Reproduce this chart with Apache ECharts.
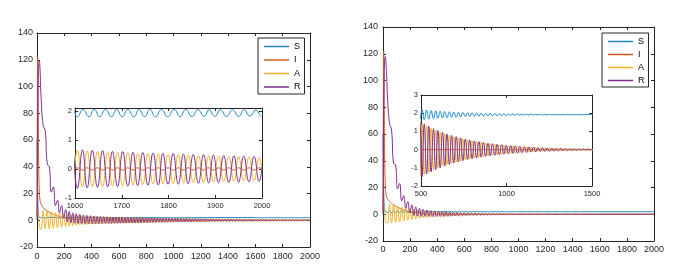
<!DOCTYPE html>
<html><head><meta charset="utf-8">
<script src="https://cdn.jsdelivr.net/npm/echarts@6/dist/echarts.min.js"></script>
<style>html,body{margin:0;padding:0;background:#fff}#c{width:688px;height:272px}</style>
</head><body><div id="c"></div>
<script>
// ---------- series names / colours ----------
const names = ['S', 'I', 'A', 'R'];

// ---------- LEFT panel: times of the A/R/I samples ----------
const tL = [0,2,5,9,13,17,22,
30,45,60,75,90,105,120,135,150,165,180,195,210,
223,236,249,262,275,288,301,314,327,340,353,366,379,392,405,
417,429,441,453,465,477,489,501,513,
525,536,546,557,568, 579,590,600,611,622, 633,644,654,665,676, 687,698,708,719,730,
741,752,762,773,784, 795,806,816,827,838, 849,860,870,881,892, 903,914,924,935,946,
957,968,978,989,1000, 1011,1022,1032,1043,1054, 1065,1076,1086,1097,1108, 1119,1130,1140,1151,1162,
1173,1184,1194,1205,1216, 1227,1238,1248,1259,1270, 1281,1292,1302,1313,1324, 1335,1346,1356,1367,1378,
1389,1400,1410,1421,1432, 1443,1454,1464,1475,1486, 1497,1508,1518,1529,1540, 1551,1562,1572,1583,1594,
1605,1616,1626,1637,1648, 1659,1670,1680,1691,1702, 1713,1724,1734,1745,1756, 1767,1778,1788,1799,1810,
1821,1832,1842,1853,1864, 1875,1886,1896,1907,1918, 1929,1940,1950,1961,1972, 1983,1994,2000];

const aLeft = [10,9.5,7.5,3,-1.5,-4.5,-6,
-6.8,7.2,-6.6,6.8,-6.3,6.3,-6,5.8,-5.6,5.3,-5.2,4.8,-4.7,
4.3,-4.3,4,-4,3.7,-3.8,3.5,-3.5,3.3,-3.3,3.1,-3.2,3,-3,2.9,
-2.9,2.8,-2.8,2.7,-2.7,2.6,-2.6,2.5,-2.5,
2.4,-2.38,2.35,-2.33,2.3, -2.27,2.24,-2.21,2.18,-2.16, 2.13,-2.1,2.08,-2.05,2.02, -2,1.97,-1.95,1.92,-1.9,
1.87,-1.85,1.83,-1.8,1.78, -1.76,1.73,-1.71,1.69,-1.67, 1.65,-1.63,1.6,-1.58,1.56, -1.54,1.52,-1.5,1.48,-1.46,
1.44,-1.43,1.41,-1.39,1.37, -1.35,1.33,-1.32,1.3,-1.28, 1.26,-1.25,1.23,-1.21,1.2, -1.18,1.17,-1.15,1.14,-1.12,
1.1,-1.09,1.08,-1.06,1.05, -1.03,1.02,-1,0.99,-0.98, 0.96,-0.95,0.94,-0.92,0.91, -0.9,0.89,-0.87,0.86,-0.85,
0.84,-0.83,0.81,-0.8,0.79, -0.78,0.77,-0.76,0.75,-0.74, 0.73,-0.72,0.71,-0.7,0.69, -0.68,0.67,-0.66,0.65,-0.64,
0.64,-0.63,0.62,-0.61,0.6, -0.6,0.59,-0.58,0.57,-0.57, 0.56,-0.55,0.54,-0.54,0.53, -0.52,0.52,-0.51,0.5,-0.5,
0.49,-0.48,0.48,-0.47,0.46, -0.46,0.45,-0.45,0.44,-0.43, 0.43,-0.42,0.42,-0.41,0.41, -0.4,0.4,-0.05];

const rLeft = [0,20,70,105,117,119,113,
92,71,67,42,40,21,25,11,15,5.5,11,1.5,8,
-1.2,6.5,-1.8,5.5,-2.2,4.9,-2.4,4.4,-2.5,4,-2.6,3.7,-2.6,3.4,-2.6,
3.2,-2.6,3,-2.6,2.9,-2.5,2.7,-2.5,2.6,
-2.47,2.45,-2.42,2.4,-2.37, 2.34,-2.31,2.28,-2.25,2.22, -2.19,2.16,-2.14,2.11,-2.08, 2.06,-2.03,2.01,-1.98,1.96,
-1.93,1.91,-1.88,1.85,-1.83, 1.81,-1.78,1.76,-1.74,1.72, -1.7,1.68,-1.65,1.63,-1.61, 1.59,-1.57,1.55,-1.52,1.5,
-1.48,1.47,-1.45,1.43,-1.41, 1.39,-1.37,1.36,-1.34,1.32, -1.3,1.29,-1.27,1.25,-1.24, 1.22,-1.21,1.19,-1.17,1.15,
-1.13,1.12,-1.11,1.09,-1.08, 1.06,-1.05,1.03,-1.02,1.01, -0.99,0.98,-0.97,0.95,-0.94, 0.93,-0.92,0.9,-0.89,0.88,
-0.87,0.86,-0.84,0.83,-0.82, 0.81,-0.8,0.79,-0.78,0.77, -0.76,0.75,-0.74,0.73,-0.72, 0.71,-0.7,0.69,-0.68,0.67,
-0.67,0.66,-0.65,0.64,-0.63, 0.63,-0.62,0.61,-0.6,0.6, -0.59,0.58,-0.57,0.57,-0.56, 0.55,-0.55,0.54,-0.53,0.53,
-0.52,0.51,-0.51,0.5,-0.49, 0.49,-0.48,0.48,-0.47,0.46, -0.46,0.45,-0.45,0.44,-0.44, 0.43,-0.43,0.06];

const iLeft = [3,70,122,75,38,22,15,
12,9.5,8,7,6,5.2,4.5,3.9,3.3,2.8,2.4,2,1.7,
1.45,1.2,1,0.85,0.7,0.58,0.48,0.4,0.33,0.27,0.22,0.18,0.15,0.12,0.1,
-0.02,0.08,-0.03,0.07,-0.04,0.06,-0.04,0.05,-0.05,
0.05,-0.05,0.05,-0.05,0.05, -0.05,0.05,-0.05,0.05,-0.05, 0.05,-0.05,0.05,-0.05,0.05, -0.05,0.05,-0.05,0.05,-0.05,
0.05,-0.05,0.05,-0.05,0.05, -0.05,0.05,-0.05,0.05,-0.05, 0.05,-0.05,0.05,-0.05,0.05, -0.05,0.05,-0.05,0.05,-0.05,
0.05,-0.05,0.05,-0.05,0.05, -0.05,0.05,-0.05,0.05,-0.05, 0.04,-0.04,0.04,-0.04,0.04, -0.04,0.04,-0.04,0.04,-0.04,
0.04,-0.04,0.04,-0.04,0.04, -0.04,0.04,-0.04,0.04,-0.04, 0.04,-0.04,0.04,-0.04,0.04, -0.04,0.04,-0.04,0.04,-0.04,
0.04,-0.04,0.04,-0.04,0.04, -0.04,0.04,-0.04,0.04,-0.04, 0.04,-0.04,0.04,-0.04,0.04, -0.04,0.04,-0.04,0.04,-0.04,
0.04,-0.04,0.04,-0.04,0.04, -0.04,0.04,-0.04,0.04,-0.04, 0.04,-0.04,0.04,-0.04,0.04, -0.04,0.04,-0.04,0.04,-0.04,
0.04,-0.04,0.04,-0.04,0.04, -0.04,0.04,-0.04,0.04,-0.04, 0.04,-0.04,0.04,-0.04,0.04, -0.04,0.04,0];

// S (left) has its own sample times
const tSLeft = [0,2,5,9,13,17,22,35,60,100,150,250,400,700,1000,1300,
1593,
1605,1617,1630,1641,1653,1665,1678,1689,1701,1713,1726,1737,1749,1760,1772,1785,1798,1812,1825,1837,1850,1863,1876,1887,1899,1911,1924,1937,1950,1962,1974,1987,1999,
2000];
const sLeft = [60,40,18,7,3.5,2.3,1.8,2.2,1.7,2.2,1.8,2.05,1.85,2,1.85,2,
2.04,
1.8,2.05,1.8,2.05,1.8,2.05,1.8,2.05,1.8,2.05,1.8,2.05,1.8,2.05,1.8,2.05,1.8,2.05,1.8,2.05,1.81,2.04,1.81,2.04,1.81,2.04,1.81,2.04,1.81,2.04,1.82,2.03,1.82,
1.82];

// ---------- RIGHT panel ----------
const tR = [0,2,5,9,13,17,22,27,
33,48,63,78,93,108,123,138,153,168,183,198,
213,227,241,255,269,283,297,311,325,339,353,367,381,395,409,423,437,451,465,479,493,
506,519,533,546,559,573,586,599,612,626,
639,652,666,679,692,706,719,732,745,759,
772,785,799,812,825,839,852,865,878,892,
905,918,932,945,958,972,985,998,1011,1025,
1038,1051,1065,1078,1091,1105,1118,1131,1144,1158,
1171,1184,1198,1211,1224,1238,1251,1264,1277,1291,
1304,1317,1331,1344,1357,1371,1384,1397,1410,1424,
1437,1450,1464,1477,1490,1504,
1600,1800,2000];

const aRight = [10,9.5,7.5,3,-1.5,-4.5,-6,-6.6,
-6.8,7.2,-6.6,6.8,-6.2,6.1,-5.7,5.4,-5.1,4.8,-4.5,4.2,
-3.9,3.6,-3.4,3.2,-3,2.8,-2.7,2.5,-2.4,2.3,-2.2,2.1,-2,1.9,-1.85,1.78,-1.72,1.66,-1.6,1.55,-1.5,
1.42,-1.35,1.29,-1.23,1.17,-1.11,1.06,-1.01,0.96,-0.91,
0.87,-0.83,0.79,-0.75,0.71,-0.68,0.65,-0.62,0.59,-0.56,
0.53,-0.51,0.48,-0.46,0.44,-0.42,0.4,-0.38,0.36,-0.34,
0.33,-0.31,0.3,-0.28,0.27,-0.26,0.24,-0.23,0.22,-0.21,
0.2,-0.19,0.18,-0.17,0.16,-0.15,0.15,-0.14,0.13,-0.13,
0.12,-0.11,0.11,-0.1,0.1,-0.09,0.09,-0.08,0.08,-0.07,
0.07,-0.07,0.06,-0.06,0.06,-0.05,0.05,-0.05,0.05,-0.04,
0.04,-0.04,0.04,-0.04,0.03,-0.03,
0,0,0];

const rRight = [0,20,70,104,116,118,113,104,
88,68,63,38,37,19,23,10,14,4.5,9.5,1,
7,-1,5.5,-1.4,4.5,-1.6,3.8,-1.7,3.2,-1.7,2.8,-1.65,2.4,-1.6,2.1,-1.6,1.9,-1.55,1.75,-1.5,1.55,
-1.47,1.4,-1.34,1.28,-1.22,1.15,-1.1,1.05,-1,0.95,
-0.9,0.86,-0.82,0.78,-0.74,0.71,-0.68,0.64,-0.61,0.58,
-0.55,0.53,-0.5,0.48,-0.46,0.44,-0.42,0.4,-0.37,0.35,
-0.34,0.32,-0.31,0.29,-0.28,0.27,-0.25,0.24,-0.23,0.22,
-0.21,0.2,-0.19,0.18,-0.17,0.16,-0.16,0.15,-0.14,0.14,
-0.12,0.11,-0.11,0.1,-0.1,0.09,-0.09,0.08,-0.08,0.07,
-0.07,0.07,-0.06,0.06,-0.06,0.05,-0.05,0.05,-0.05,0.04,
-0.04,0.04,-0.04,0.04,-0.03,0.03,
0,0,0];

const iRight = [3,70,122,75,38,22,15,13,
11.5,9.5,8,7,6,5.2,4.5,3.8,3.2,2.7,2.2,1.8,
1.5,1.2,1,0.8,0.65,0.5,0.4,0.32,0.25,0.2,0.16,0.13,0.1,0.08,0.06,0.05,0.04,0.03,0.03,0.02,0.02,
0.02,-0.02,0.02,-0.02,0.01,-0.01,0.01,-0.01,0.01,-0.01,
0,0,0,0,0,0,0,0,0,0,
0,0,0,0,0,0,0,0,0,0,
0,0,0,0,0,0,0,0,0,0,
0,0,0,0,0,0,0,0,0,0,
0,0,0,0,0,0,0,0,0,0,
0,0,0,0,0,0,0,0,0,0,
0,0,0,0,0,0,
0,0,0];

const sRight = [60,40,18,7,3.5,2.3,1.8,1.6,
1.32,2.52,1.32,2.52,1.32,2.52,1.34,2.5,1.36,2.48,1.4,2.45,
1.4,2.42,1.45,2.38,1.5,2.35,1.53,2.32,1.56,2.3,1.58,2.28,1.6,2.26,1.62,2.25,1.64,2.24,1.65,2.23,1.66,
2.2,1.65,2.18,1.67,2.15,1.7,2.13,1.72,2.11,1.74,
2.09,1.75,2.08,1.77,2.06,1.78,2.05,1.8,2.04,1.81,
2.03,1.82,2.02,1.83,2.01,1.84,2,1.84,1.99,1.85,
1.99,1.86,1.98,1.86,1.97,1.87,1.97,1.87,1.96,1.88,
1.96,1.88,1.96,1.89,1.95,1.89,1.95,1.89,1.95,1.9,
1.94,1.9,1.94,1.9,1.94,1.9,1.94,1.91,1.93,1.91,
1.93,1.91,1.93,1.91,1.93,1.91,1.93,1.91,1.93,1.91,
1.93,1.92,1.93,1.92,1.93,1.92,
1.92,1.92,1.92];

// ---------- axis ranges / ticks ----------
const mainX = {min: 0, max: 2000, interval: 200};
const mainY = {min: -20, max: 140, interval: 20};
const insetLX = {min: 1600, max: 2000, interval: 100};
const insetLY = {min: -1, max: 2.1, interval: 1};
const insetRX = {min: 500, max: 1500, interval: 500};
const insetRY = {min: -2, max: 3, interval: 1};

// ---------- rendering ----------
const colors = {S: '#1d87cf', I: '#dc5622', A: '#efb226', R: '#7e2f8e'};
const FONT = "'Liberation Sans', Arial, Helvetica, sans-serif";
const AX = '#262626';

function fmt(v) { return Math.abs(v - Math.round(v)) < 1e-9 ? String(Math.round(v)) : ''; }

function axis(kind, gridIndex, position, range, showLabel, fontSize, margin, z) {
  return {
    type: 'value', gridIndex: gridIndex, position: position,
    min: range.min, max: range.max, interval: range.interval, z: z,
    axisLine: {show: true, onZero: false, lineStyle: {color: AX, width: 1}},
    axisTick: {show: true, inside: true, length: 3, lineStyle: {color: AX, width: 1}},
    axisLabel: {show: showLabel, fontSize: fontSize, color: AX, fontFamily: FONT, margin: margin, formatter: fmt},
    splitLine: {show: false}
  };
}

const grids = [
  {left: 37, top: 33, width: 273, height: 214, z: 0},
  {left: 75, top: 108, width: 187, height: 90, z: 10, show: true, backgroundColor: '#fff', borderWidth: 0},
  {left: 383, top: 27, width: 271, height: 214, z: 0},
  {left: 421, top: 95, width: 171, height: 91, z: 10, show: true, backgroundColor: '#fff', borderWidth: 0}
];

const xAxes = [
  axis('x', 0, 'bottom', mainX, true, 9, 5, 1),
  axis('x', 0, 'top', mainX, false, 9, 5, 1),
  axis('x', 1, 'bottom', insetLX, true, 7.5, 4, 11),
  axis('x', 1, 'top', insetLX, false, 7.5, 4, 11),
  axis('x', 2, 'bottom', mainX, true, 9, 4, 1),
  axis('x', 2, 'top', mainX, false, 9, 4, 1),
  axis('x', 3, 'bottom', insetRX, true, 7.5, 4, 11),
  axis('x', 3, 'top', insetRX, false, 7.5, 4, 11)
];
const yAxes = [
  axis('y', 0, 'left', mainY, true, 9, 4, 1),
  axis('y', 0, 'right', mainY, false, 9, 4, 1),
  axis('y', 1, 'left', insetLY, true, 7.5, 3, 11),
  axis('y', 1, 'right', insetLY, false, 7.5, 3, 11),
  axis('y', 2, 'left', mainY, true, 9, 5, 1),
  axis('y', 2, 'right', mainY, false, 9, 5, 1),
  axis('y', 3, 'left', insetRY, true, 7.5, 3, 11),
  axis('y', 3, 'right', insetRY, false, 7.5, 3, 11)
];

function pairs(t, v) { return t.map(function (x, i) { return [x, v[i]]; }); }
function line(name, axisIdx, t, v, z) {
  return {
    type: 'line', name: name, xAxisIndex: axisIdx, yAxisIndex: axisIdx,
    data: pairs(t, v), symbol: 'none', showSymbol: false, smooth: 0.5,
    lineStyle: {color: colors[name], width: 1}, itemStyle: {color: colors[name]},
    z: z, clip: true, silent: true, animation: false
  };
}

const leftSets = {S: [tSLeft, sLeft], I: [tL, iLeft], A: [tL, aLeft], R: [tL, rLeft]};
const rightSets = {S: [tR, sRight], I: [tR, iRight], A: [tR, aRight], R: [tR, rRight]};

const series = [];
[[0, leftSets, 2], [2, leftSets, 12], [4, rightSets, 2], [6, rightSets, 12]].forEach(function (g) {
  names.forEach(function (n) { series.push(line(n, g[0], g[1][n][0], g[1][n][1], g[2])); });
});

function legend(left, top, gap, pad) {
  return {
    data: names, orient: 'vertical', left: left, top: top, align: 'left',
    icon: 'rect', itemWidth: 25, itemHeight: 1.5, itemGap: gap, selectedMode: false,
    padding: pad, backgroundColor: '#fff', borderColor: AX, borderWidth: 1, z: 20,
    textStyle: {fontSize: 9, color: '#000', fontFamily: FONT, lineHeight: 10}
  };
}

const chart = echarts.init(document.getElementById('c'), null, {renderer: 'canvas'});
chart.setOption({
  animation: false,
  backgroundColor: '#fff',
  grid: grids,
  xAxis: xAxes,
  yAxis: yAxes,
  legend: [legend(258, 38, 3.5, [3.5, 4, 2, 6]), legend(602, 33, 3, [3.5, 4, 1.5, 6])],
  series: series
});
</script></body></html>
